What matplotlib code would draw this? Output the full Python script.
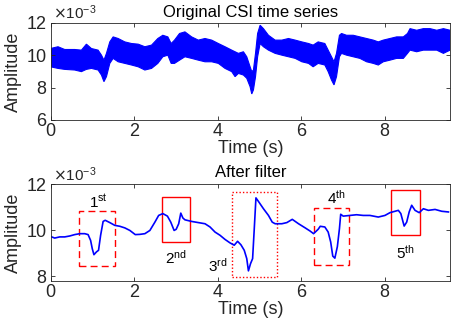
import numpy as np
import matplotlib
matplotlib.use("Agg")
import matplotlib.pyplot as plt
from matplotlib.patches import Rectangle

plt.rcParams['font.family'] = ['Liberation Sans', 'DejaVu Sans']

# raw CSI amplitude (x1e-3), read as upper / lower edge of the noisy band
raw_t = [0.00, 0.18, 0.34, 0.58, 0.74, 0.86, 0.98, 1.14, 1.22, 1.28, 1.34, 1.42, 1.50,
         1.62, 1.78, 1.94, 2.10, 2.26, 2.42, 2.57, 2.69, 2.81, 2.89, 2.97, 3.09, 3.22,
         3.38, 3.54, 3.70, 3.86, 4.02, 4.18, 4.34, 4.42, 4.50, 4.62, 4.70, 4.78, 4.82,
         4.86, 4.91, 4.96, 5.02, 5.10, 5.22, 5.38, 5.54, 5.70, 5.86, 6.02, 6.18, 6.29,
         6.41, 6.57, 6.65, 6.73, 6.79, 6.85, 6.92, 6.97, 7.09, 7.25, 7.41, 7.57, 7.73,
         7.85, 7.97, 8.13, 8.29, 8.45, 8.55, 8.61, 8.77, 8.93, 9.09, 9.25, 9.41, 9.57]
raw_upper = [10.42, 10.53, 10.36, 10.36, 10.32, 10.69, 10.42, 10.32, 10.01, 9.70, 10.12, 10.83, 11.14,
             11.04, 10.83, 10.73, 10.69, 10.53, 10.63, 11.04, 11.24, 11.14, 10.73, 10.94, 11.35, 11.45,
             11.14, 10.94, 11.04, 10.94, 10.73, 10.53, 10.32, 10.22, 10.12, 10.22, 9.91, 9.29, 8.99,
             9.09, 10.12, 11.35, 11.86, 11.65, 11.24, 10.94, 10.94, 11.04, 10.94, 10.83, 10.73, 10.63,
             10.83, 10.73, 10.32, 9.91, 9.60, 10.12, 11.24, 11.35, 11.24, 11.24, 11.14, 11.04, 10.94,
             10.83, 10.94, 11.04, 11.14, 11.14, 11.35, 11.65, 11.55, 11.65, 11.65, 11.55, 11.65, 11.55]
raw_lower = [9.29, 9.19, 9.13, 9.09, 8.99, 9.13, 9.19, 9.09, 8.78, 8.37, 8.68, 9.50, 9.81,
             9.60, 9.50, 9.40, 9.29, 9.09, 9.19, 9.50, 9.91, 10.01, 9.50, 9.50, 9.70, 9.91,
             9.81, 9.70, 9.60, 9.60, 9.50, 9.19, 8.99, 8.68, 8.88, 8.78, 8.58, 8.06, 7.61,
             7.86, 8.68, 9.91, 10.73, 10.53, 10.32, 10.12, 10.01, 9.91, 9.81, 9.60, 9.50, 9.29,
             9.50, 9.40, 8.99, 8.47, 8.17, 8.68, 9.91, 10.12, 10.01, 9.91, 9.81, 9.60, 9.50,
             9.40, 9.60, 9.70, 9.81, 9.81, 10.12, 10.32, 10.22, 10.32, 10.32, 10.32, 10.12, 10.32]

# filtered amplitude (x1e-3)
filt_t = [0.00, 0.10, 0.22, 0.34, 0.46, 0.58, 0.70, 0.82, 0.90, 0.96, 1.00, 1.04, 1.10,
          1.15, 1.20, 1.26, 1.31, 1.42, 1.54, 1.66, 1.78, 1.90, 2.03, 2.14, 2.26, 2.38,
          2.50, 2.59, 2.69, 2.80, 2.88, 2.96, 3.01, 3.07, 3.12, 3.17, 3.22, 3.38, 3.54,
          3.70, 3.82, 3.94, 4.06, 4.18, 4.30, 4.40, 4.48, 4.56, 4.64, 4.70, 4.74, 4.79,
          4.84, 4.88, 4.92, 4.99, 5.10, 5.22, 5.31, 5.38, 5.54, 5.66, 5.79, 5.94, 6.10,
          6.22, 6.30, 6.41, 6.46, 6.57, 6.65, 6.71, 6.76, 6.81, 6.87, 6.92, 6.95, 7.01,
          7.17, 7.33, 7.49, 7.65, 7.85, 8.01, 8.13, 8.25, 8.33, 8.39, 8.44, 8.47, 8.53,
          8.59, 8.65, 8.73, 8.83, 8.93, 9.05, 9.21, 9.37, 9.53]
filt_amp = [9.73, 9.66, 9.71, 9.71, 9.75, 9.81, 9.85, 9.85, 9.81, 9.56, 9.20, 8.94, 9.06,
            9.13, 9.78, 10.38, 10.43, 10.33, 10.21, 10.17, 10.10, 9.99, 9.81, 9.82, 9.85, 9.99,
            10.35, 10.64, 10.72, 10.61, 10.35, 9.99, 10.04, 10.28, 10.74, 10.53, 10.45, 10.38, 10.33,
            10.28, 10.14, 9.92, 9.78, 9.60, 9.45, 9.35, 9.52, 9.37, 9.13, 8.77, 8.24, 8.55,
            8.77, 10.07, 11.40, 11.22, 10.93, 10.64, 10.35, 10.28, 10.28, 10.33, 10.47, 10.28, 10.10,
            9.96, 9.85, 10.04, 10.17, 10.14, 9.92, 9.49, 8.88, 8.79, 9.29, 10.07, 10.69, 10.61,
            10.64, 10.67, 10.64, 10.64, 10.57, 10.64, 10.76, 10.82, 10.86, 10.72, 10.38, 10.18, 10.35,
            10.79, 11.08, 10.86, 10.76, 10.93, 10.86, 10.90, 10.82, 10.79]

# marked events: (t0, t1, amp0, amp1), label, line style
events = [((0.69, 1.54, 8.46, 10.83), '1^{st}', (0, (5, 3))),
          ((2.66, 3.35, 9.49, 11.42), '2^{nd}', '-'),
          ((4.35, 5.43, 7.99, 11.64), '3^{rd}', (0, (1, 1.5))),
          ((6.32, 7.14, 8.48, 10.97), '4^{th}', (0, (5, 3))),
          ((8.15, 8.86, 9.79, 11.73), '5^{th}', '-')]
label_pos = [(1.14, 11.00), (3.00, 8.55), (4.00, 8.19), (6.84, 11.13), (8.50, 8.77)]


def style_axes(ax, ylim, yticks):
    ax.set_xlim(0, 9.57)
    ax.set_ylim(*ylim)
    ax.set_xticks([0, 2, 4, 6, 8])
    ax.set_yticks(yticks)
    ax.tick_params(direction='in', top=True, right=True, length=3, width=0.6,
                   labelsize=13, colors='#262626')
    ax.tick_params(axis='x', pad=2)
    ax.tick_params(axis='y', pad=3)
    for s in ax.spines.values():
        s.set_color('#262626')
        s.set_linewidth(0.6)
    ax.set_xlabel('Time (s)', fontsize=13, labelpad=0, color='#262626')
    ax.set_ylabel('Amplitude', fontsize=13, labelpad=3, color='#262626')
    ax.text(0.005, 1.005, r'$\times\mathregular{10^{-3}}$', transform=ax.transAxes,
            fontsize=11, ha='left', va='bottom', color='#262626')


fig = plt.figure(figsize=(4.51, 3.26), dpi=100)

ax1 = fig.add_axes([0.112, 0.632, 0.886, 0.2975])
band_x = list(raw_t) + list(raw_t[::-1])
band_y = list(raw_upper) + list(raw_lower[::-1])
ax1.fill(band_x, band_y, color=(0.0, 0.0, 1.0), lw=0.8, alpha=1.0)
style_axes(ax1, (6, 12), [6, 8, 10, 12])
ax1.set_title('Original CSI time series', fontsize=12, pad=4)

ax2 = fig.add_axes([0.112, 0.138, 0.886, 0.2975])
ax2.plot(filt_t, filt_amp, color='#0000ff', lw=1.2)
for (box, lab, ls), (lx, ly) in zip(events, label_pos):
    t0, t1, a0, a1 = box
    ax2.add_patch(Rectangle((t0, a0), t1 - t0, a1 - a0, fill=False, edgecolor='#ff0000',
                            lw=1.0, linestyle=ls))
    ax2.text(lx, ly, '$\\mathregular{' + lab + '}$', fontsize=11, ha='center', va='baseline')
style_axes(ax2, (7.8, 12), [8, 10, 12])
ax2.set_title('After filter', fontsize=12, pad=5)

fig.savefig('out.png', dpi=100)
